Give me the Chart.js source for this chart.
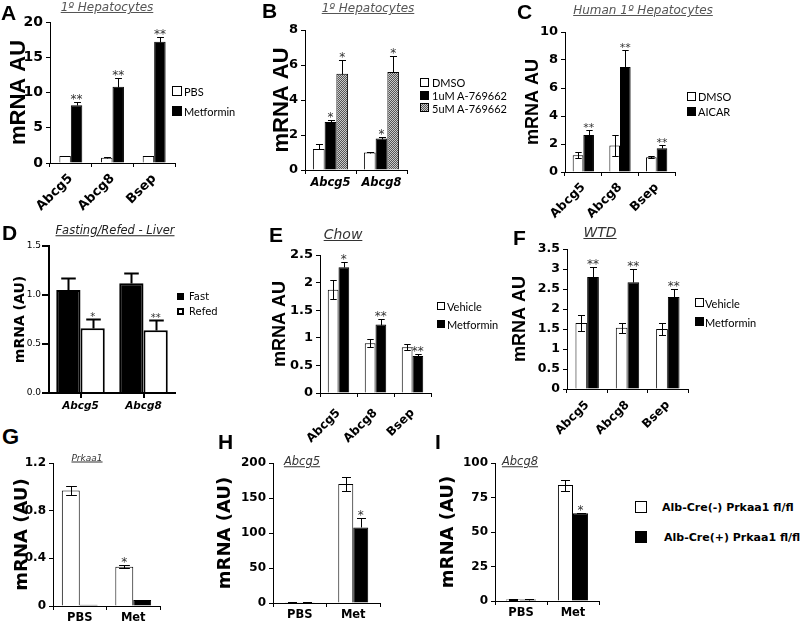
<!DOCTYPE html>
<html>
<head>
<meta charset="utf-8">
<script src="https://cdn.jsdelivr.net/npm/chart.js@4"></script>
<style>
body { margin: 0; background: #fff; }
#fig { position: relative; width: 800px; height: 626px; overflow: hidden; font-family: 'DejaVu Sans'; }
#fig canvas { position: absolute; }
.t { position: absolute; white-space: nowrap; line-height: 1; }
.letter { font: bold 21px 'Liberation Sans'; line-height: 21px; color: #000; }
.ttl { font-style: italic; text-decoration: underline; transform: translate(-50%, -50%); }
.box { position: absolute; box-sizing: border-box; border: 1px solid #000; }
</style>
</head>
<body>
<div id="fig"></div>
<script>
// A - 1º hepatocytes, metformin
var catsA = ['Abcg5', 'Abcg8', 'Bsep'];
var ticksA = [0, 5, 10, 15, 20];
var seriesA = ['PBS', 'Metformin'];
var pbsA = [1.0, 0.75, 1.0];
var pbsErrA = [0.05, 0.12, 0.05];
var metA = [8.2, 10.8, 17.2];
var metErrA = [0.5, 1.2, 0.7];
var starsA = ['**', '**', '**'];

// B - 1º hepatocytes, A-769662
var catsB = ['Abcg5', 'Abcg8'];
var ticksB = [0, 2, 4, 6, 8];
var seriesB = ['DMSO', '1uM A-769662', '5uM A-769662'];
var dmsoB = [1.2, 1.0];
var dmsoErrB = [0.27, 0.03];
var a1B = [2.75, 1.8];
var a1ErrB = [0.1, 0.08];
var a5B = [5.5, 5.6];
var a5ErrB = [0.8, 0.9];
var starsB = ['*', '*'];

// C - human 1º hepatocytes
var catsC = ['Abcg5', 'Abcg8', 'Bsep'];
var ticksC = [0, 2, 4, 6, 8, 10];
var seriesC = ['DMSO', 'AICAR'];
var dmsoC = [1.2, 1.9, 1.05];
var dmsoErrC = [0.2, 0.75, 0.07];
var aicarC = [2.65, 7.5, 1.7];
var aicarErrC = [0.35, 1.2, 0.2];
var starsC = ['**', '**', '**'];

// D - fasting / refed liver
var catsD = ['Abcg5', 'Abcg8'];
var ticksD = [0, 0.5, 1, 1.5];
var seriesD = ['Fast', 'Refed'];
var fastD = [1.05, 1.12];
var fastErrD = [0.12, 0.1];
var refedD = [0.66, 0.64];
var refedErrD = [0.1, 0.1];
var starsD = ['*', '**'];

// E - chow
var catsE = ['Abcg5', 'Abcg8', 'Bsep'];
var ticksE = [0, 0.5, 1, 1.5, 2, 2.5];
var seriesE = ['Vehicle', 'Metformin'];
var vehE = [1.87, 0.9, 0.83];
var vehErrE = [0.17, 0.07, 0.05];
var metE = [2.28, 1.24, 0.67];
var metErrE = [0.1, 0.1, 0.04];
var starsE = ['*', '**', '**'];

// F - WTD
var catsF = ['Abcg5', 'Abcg8', 'Bsep'];
var ticksF = [0, 0.5, 1, 1.5, 2, 2.5, 3, 3.5];
var seriesF = ['Vehicle', 'Metformin'];
var vehF = [1.65, 1.53, 1.5];
var vehErrF = [0.2, 0.12, 0.15];
var metF = [2.8, 2.67, 2.3];
var metErrF = [0.25, 0.33, 0.2];
var starsF = ['**', '**', '**'];

// G, H, I - Alb-Cre Prkaa1 fl/fl
var catsGHI = ['PBS', 'Met'];
var seriesGHI = ['Alb-Cre(-) Prkaa1 fl/fl', 'Alb-Cre(+) Prkaa1 fl/fl'];
var ticksG = [0, 0.4, 0.8, 1.2];
var negG = [0.97, 0.33];
var negErrG = [0.04, 0.01];
var posG = [0.01, 0.05];
var posErrG = [0, 0];
var starsG = ['', '*'];
var ticksH = [0, 50, 100, 150, 200];
var negH = [1, 170];
var negErrH = [0.5, 10];
var posH = [1, 108];
var posErrH = [0.5, 13];
var starsH = ['', '*'];
var ticksI = [0, 25, 50, 75, 100];
var negI = [1, 84];
var negErrI = [0.3, 4];
var posI = [1, 63.5];
var posErrI = [0.2, 0.5];
var starsI = ['', '*'];

Chart.defaults.font.family = 'DejaVu Sans';
var fig = document.getElementById('fig');

// error bars + significance stars drawn on top of the bars
var errPlugin = {
    id: 'errPlugin',
    afterDatasetsDraw: function(chart, args, opts) {
        var ctx = chart.ctx;
        var ys = chart.scales.y;
        ctx.save();
        ctx.strokeStyle = '#000';
        ctx.lineWidth = opts.lw || 1;
        chart.data.datasets.forEach(function(ds, di) {
            if (!ds.errors) return;
            chart.getDatasetMeta(di).data.forEach(function(bar, i) {
                var v = ds.data[i], e = ds.errors[i];
                var x = Math.round(bar.x) + 0.5;
                var yTop = Math.round(ys.getPixelForValue(v + e)) + 0.5;
                var yBot = Math.round(ys.getPixelForValue(ds.errDown ? v - e : v)) + 0.5;
                var half = Math.max(3, bar.width * 0.3);
                if (e > 0) {
                    ctx.beginPath();
                    ctx.moveTo(x, yTop); ctx.lineTo(x, yBot);
                    ctx.moveTo(x - half, yTop); ctx.lineTo(x + half, yTop);
                    if (ds.errDown) { ctx.moveTo(x - half, yBot); ctx.lineTo(x + half, yBot); }
                    ctx.stroke();
                }
                if (ds.stars && ds.stars[i]) {
                    var s = opts.starSize || 12;
                    ctx.fillStyle = '#333';
                    ctx.font = s + 'px "DejaVu Sans"';
                    ctx.textAlign = 'center';
                    ctx.textBaseline = 'alphabetic';
                    ctx.fillText(ds.stars[i], bar.x, yTop);
                }
            });
        });
        ctx.restore();
    }
};

function ds(label, data, errors, fill, errDown, stars) {
    return { label: label, data: data, errors: errors, backgroundColor: fill, errDown: errDown, stars: stars };
}

function panel(p) {
    var padTop = 12, padRight = 3;
    var lw = p.lw || 1;
    var left = Math.round(p.titleX - p.titleSize / 2);
    var top = p.topY - padTop;
    var yw = p.axisX - left;
    var cv = document.createElement('canvas');
    cv.width = p.axisEnd - left + padRight;
    cv.height = p.zeroY - top + p.xh;
    cv.style.left = left + 'px';
    cv.style.top = top + 'px';
    fig.appendChild(cv);
    var tv = p.tickVals;
    new Chart(cv, {
        type: 'bar',
        data: { labels: p.cats, datasets: p.sets },
        plugins: [errPlugin],
        options: {
            responsive: false,
            animation: false,
            layout: { padding: { top: padTop, right: padRight, left: 0, bottom: 0 } },
            plugins: { legend: { display: false }, tooltip: { enabled: false }, errPlugin: { lw: lw, starSize: p.starSize } },
            datasets: { bar: { barPercentage: 1, categoryPercentage: p.catPct, borderWidth: lw, borderColor: '#000' } },
            scales: {
                x: {
                    offset: true,
                    grid: { offset: p.gridOffset !== false, drawOnChartArea: false, tickLength: p.xTick || 4, color: '#000', lineWidth: lw },
                    border: { color: '#000', width: lw },
                    ticks: { autoSkip: false, maxRotation: p.rot, minRotation: p.rot, padding: p.xPad == null ? 2 : p.xPad, color: '#000', font: p.xFont },
                    afterFit: function(s) { s.height = p.xh; }
                },
                y: {
                    min: tv[0],
                    max: tv[tv.length - 1],
                    ticks: {
                        stepSize: tv[1] - tv[0], color: '#000', font: p.yFont, padding: p.yPad == null ? 3 : p.yPad,
                        callback: p.fmt || function(v) { return String(+v.toFixed(2)); }
                    },
                    grid: { drawOnChartArea: false, tickLength: p.yTick || 4, color: '#000', lineWidth: lw },
                    border: { color: '#000', width: lw },
                    title: { display: true, text: p.title, color: '#000', padding: 0,
                             font: { family: p.titleFont, size: p.titleSize, weight: 'bold', lineHeight: 1 } },
                    afterFit: function(s) { s.width = yw; }
                }
            }
        }
    });
}

function text(str, x, y, css, cls) {
    var d = document.createElement('div');
    d.className = 't ' + (cls || '');
    d.textContent = str;
    d.style.left = x + 'px';
    d.style.top = y + 'px';
    d.style.cssText += css || '';
    fig.appendChild(d);
}

function legend(x, tx, ys, labels, fills, size, font, bw) {
    labels.forEach(function(lab, i) {
        var b = document.createElement('div');
        b.className = 'box';
        b.style.left = x + 'px';
        b.style.top = (ys[i] - size / 2) + 'px';
        b.style.width = size + 'px';
        b.style.height = size + 'px';
        b.style.background = fills[i];
        if (bw) b.style.borderWidth = bw[i] + 'px';
        fig.appendChild(b);
        var t = document.createElement('div');
        t.className = 't';
        t.textContent = lab;
        t.style.left = (Array.isArray(tx) ? tx[i] : tx) + 'px';
        t.style.top = ys[i] + 'px';
        t.style.font = font;
        t.style.transform = 'translateY(-50%)';
        fig.appendChild(t);
    });
}

// grey dithered fill for the 5uM bars
var pc = document.createElement('canvas');
pc.width = 2; pc.height = 2;
var pg = pc.getContext('2d');
pg.fillStyle = '#cacaca'; pg.fillRect(0, 0, 2, 2);
pg.fillStyle = '#555'; pg.fillRect(0, 0, 1, 1); pg.fillRect(1, 1, 1, 1);
var dither = pg.createPattern(pc, 'repeat');
var ditherCss = 'repeating-conic-gradient(#555 0 25%, #cacaca 0 50%) 0 0 / 2px 2px';

var bold = { size: 13, weight: 'bold' };

// ---- top row ----
panel({ cats: catsA, tickVals: ticksA, title: 'mRNA AU', titleFont: 'Liberation Sans', titleSize: 22, titleX: 19,
    axisX: 50, axisEnd: 175, topY: 22, zeroY: 163, xh: 55, rot: 45, catPct: 0.55, xPad: 4,
    yFont: { size: 14, weight: 'bold' }, xFont: bold,
    sets: [ds(seriesA[0], pbsA, pbsErrA, '#fff', false), ds(seriesA[1], metA, metErrA, '#000', false, starsA)] });

panel({ cats: catsB, tickVals: ticksB, title: 'mRNA AU', titleFont: 'Liberation Sans', titleSize: 22, titleX: 282,
    axisX: 305, axisEnd: 407, topY: 30, zeroY: 170, xh: 25, rot: 0, catPct: 0.69,
    yFont: bold, xFont: { size: 11.5, weight: 'bold', style: 'italic' },
    sets: [ds(seriesB[0], dmsoB, dmsoErrB, '#fff', false), ds(seriesB[1], a1B, a1ErrB, '#000', false, starsB),
           ds(seriesB[2], a5B, a5ErrB, dither, false, starsB)] });

panel({ cats: catsC, tickVals: ticksC, title: 'mRNA AU', titleFont: 'Liberation Sans', titleSize: 18, titleX: 533,
    axisX: 565, axisEnd: 675, topY: 32, zeroY: 172, xh: 55, rot: 45, catPct: 0.58, xPad: 4,
    yFont: bold, xFont: { size: 12.5, weight: 'bold' }, starSize: 11,
    sets: [ds(seriesC[0], dmsoC, dmsoErrC, '#fff', true), ds(seriesC[1], aicarC, aicarErrC, '#000', false, starsC)] });

// ---- middle row ----
panel({ cats: catsD, tickVals: ticksD, title: 'mRNA (AU)', titleFont: 'DejaVu Sans', titleSize: 14, titleX: 20,
    axisX: 49, axisEnd: 175, topY: 246, zeroY: 393, xh: 25, rot: 0, catPct: 0.77, lw: 2,
    xTick: 5, yTick: 7, yPad: 1, gridOffset: false, starSize: 10,
    yFont: { size: 9 }, xFont: { size: 10.5, weight: 'bold', style: 'italic' },
    fmt: function(v) { return v.toFixed(1); },
    sets: [ds(seriesD[0], fastD, fastErrD, '#000', false), ds(seriesD[1], refedD, refedErrD, '#fff', false, starsD)] });

panel({ cats: catsE, tickVals: ticksE, title: 'mRNA AU', titleFont: 'Liberation Sans', titleSize: 18, titleX: 280,
    axisX: 320, axisEnd: 431, topY: 255, zeroY: 393, xh: 50, rot: 45, catPct: 0.58, xPad: 9,
    yFont: bold, xFont: { size: 12, weight: 'bold' },
    sets: [ds(seriesE[0], vehE, vehErrE, '#fff', true), ds(seriesE[1], metE, metErrE, '#000', false, starsE)] });

panel({ cats: catsF, tickVals: ticksF, title: 'mRNA AU', titleFont: 'Liberation Sans', titleSize: 18, titleX: 520,
    axisX: 567, axisEnd: 688, topY: 249, zeroY: 389, xh: 50, rot: 45, catPct: 0.58, xPad: 5,
    yFont: { size: 12.5, weight: 'bold' }, xFont: { size: 12, weight: 'bold' },
    sets: [ds(seriesF[0], vehF, vehErrF, '#fff', true), ds(seriesF[1], metF, metErrF, '#000', false, starsF)] });

// ---- bottom row ----
var ghi = { titleFont: 'DejaVu Sans', titleSize: 18, rot: 0, yFont: { size: 12, weight: 'bold' },
    xFont: { size: 11.5, weight: 'bold' }, xPad: 1, title: 'mRNA (AU)', cats: catsGHI };

panel(Object.assign({}, ghi, { tickVals: ticksG, titleX: 22, axisX: 53, axisEnd: 160, topY: 463, zeroY: 606, xh: 20, catPct: 0.67,
    sets: [ds(seriesGHI[0], negG, negErrG, '#fff', true, starsG), ds(seriesGHI[1], posG, posErrG, '#000', false)] }));

panel(Object.assign({}, ghi, { tickVals: ticksH, titleX: 225, axisX: 273, axisEnd: 380, topY: 463, zeroY: 603, xh: 23, catPct: 0.56,
    sets: [ds(seriesGHI[0], negH, negErrH, '#fff', true), ds(seriesGHI[1], posH, posErrH, '#000', false, starsH)] }));

panel(Object.assign({}, ghi, { tickVals: ticksI, titleX: 448, axisX: 495, axisEnd: 599, topY: 463, zeroY: 601, xh: 25, catPct: 0.58,
    sets: [ds(seriesGHI[0], negI, negErrI, '#fff', true), ds(seriesGHI[1], posI, posErrI, '#000', false, starsI)] }));

// panel letters
text('A', 1, 2, '', 'letter');
text('B', 262, 0, '', 'letter');
text('C', 517, 1, '', 'letter');
text('D', 2, 222, '', 'letter');
text('E', 269, 224, '', 'letter');
text('F', 513, 227, '', 'letter');
text('G', 2, 426, 'font-size:22px;', 'letter');
text('H', 218, 431, '', 'letter');
text('I', 435, 431, '', 'letter');

// panel titles
text('1º Hepatocytes', 107, 7, 'font-size:12px;color:#555;', 'ttl');
text('1º Hepatocytes', 368, 8, 'font-size:12px;color:#555;', 'ttl');
text('Human 1º Hepatocytes', 643, 10, 'font-size:12px;color:#555;', 'ttl');
text('Fasting/Refed - Liver', 115, 231, 'font-size:11.5px;color:#222;', 'ttl');
text('Chow', 343, 234, 'font-size:14px;color:#333;', 'ttl');
text('WTD', 600, 232, 'font-size:14px;color:#333;', 'ttl');
text('Prkaa1', 87, 458, 'font-size:9px;color:#333;', 'ttl');
text('Abcg5', 302, 462, 'font-size:11.5px;color:#333;', 'ttl');
text('Abcg8', 520, 462, 'font-size:11.5px;color:#333;', 'ttl');

// legends
var lato = '11px Lato';
legend(172, 184, [90.5, 110.5], seriesA, ['#fff', '#000'], 10, lato);
legend(420, 432, [82, 95, 107.5], seriesB, ['#fff', '#000', ditherCss], 9, lato);
legend(687, 698, [96, 111], seriesC, ['#fff', '#000'], 9, lato);
legend(177, 189, [296, 311], seriesD, ['#000', '#fff'], 7, '10px "DejaVu Sans"', [1, 2]);
legend(437, 447, [305.5, 323.5], seriesE, ['#fff', '#000'], 8, lato);
legend(695, 705, [302.5, 321.5], seriesF, ['#fff', '#000'], 9, lato);
legend(635, [662, 664], [507, 537], seriesGHI, ['#fff', '#000'], 12, 'bold 11px "DejaVu Sans"');
</script>
</body>
</html>
